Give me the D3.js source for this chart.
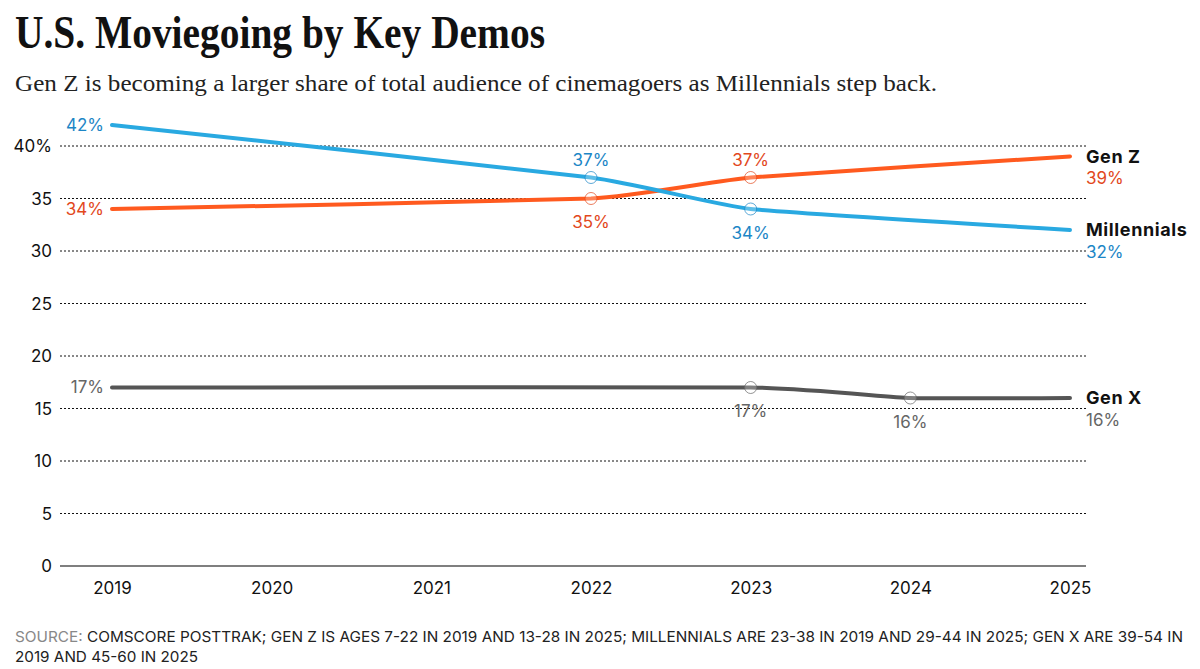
<!DOCTYPE html>
<html>
<head>
<meta charset="utf-8">
<script src="https://cdn.jsdelivr.net/npm/d3@7"></script>
<style>
  body { margin: 0; background: #fff; }
  text { font-family: "Inter", "Roboto", sans-serif; }
</style>
</head>
<body>
<script>
// U.S. moviegoing share by generation

let years = [2019, 2020, 2021, 2022, 2023, 2024, 2025];
let yTicks = [0, 5, 10, 15, 20, 25, 30, 35, 40];

let genZYears = [2019, 2022, 2023, 2025];
let genZValues = [34, 35, 37, 39];

let millYears = [2019, 2022, 2023, 2025];
let millValues = [42, 37, 34, 32];

let genXYears = [2019, 2023, 2024, 2025];
let genXValues = [17, 17, 16, 16];

// data labels: [year, value, position]
let genZLabels = [[2019, 34, "left"], [2022, 35, "below"], [2023, 37, "above"]];
let millLabels = [[2019, 42, "left"], [2022, 37, "above"], [2023, 34, "below"]];
let genXLabels = [[2019, 17, "left"], [2023, 17, "below"], [2024, 16, "below"]];

let genZMarkers = [2022, 2023];
let millMarkers = [2022, 2023];
let genXMarkers = [2023, 2024];

let series = [
  { name: "Gen Z", years: genZYears, values: genZValues, labels: genZLabels, markers: genZMarkers,
    line: "#ff5a1f", text: "#e2481c" },
  { name: "Millennials", years: millYears, values: millValues, labels: millLabels, markers: millMarkers,
    line: "#29a9e1", text: "#1c86c6" },
  { name: "Gen X", years: genXYears, values: genXValues, labels: genXLabels, markers: genXMarkers,
    line: "#555555", text: "#666666" }
];

let svgWidth = 1200;
let svgHeight = 669;

let svg = d3.select("body")
            .append("svg")
            .attr("width", svgWidth)
            .attr("height", svgHeight);

// Title and subtitle
svg.append("text")
   .attr("x", 15)
   .attr("y", 48)
   .attr("font-weight", "bold")
   .attr("font-size", 47)
   .attr("textLength", 530)
   .attr("lengthAdjust", "spacingAndGlyphs")
   .attr("fill", "#111")
   .style("font-family", "'Liberation Serif', serif")
   .text("U.S. Moviegoing by Key Demos");

svg.append("text")
   .attr("x", 15)
   .attr("y", 91)
   .attr("font-size", 24)
   .attr("textLength", 922)
   .attr("lengthAdjust", "spacingAndGlyphs")
   .attr("fill", "#222")
   .style("font-family", "'Liberation Serif', serif")
   .text("Gen Z is becoming a larger share of total audience of cinemagoers as Millennials step back.");

// Scales
let x = d3.scaleLinear().domain([2019, 2025]).range([112, 1070]);
let y = d3.scaleLinear().domain([0, 40]).range([566, 146]);

// Gridlines
let grid = svg.append("g");
grid.selectAll("line")
    .data(yTicks)
    .enter()
    .append("line")
    .attr("x1", 60)
    .attr("x2", 1086)
    .attr("y1", d => y(d))
    .attr("y2", d => y(d))
    .attr("stroke", d => d === 0 ? "#555" : "#111")
    .attr("stroke-width", d => d === 0 ? 1.5 : 1)
    .attr("stroke-dasharray", d => d === 0 ? null : "2,2");

// Y axis labels
let yAxis = d3.axisLeft(y)
              .tickValues(yTicks)
              .tickSize(0)
              .tickPadding(0)
              .tickFormat(d => d === 40 ? "40%" : d);

svg.append("g")
   .attr("transform", "translate(52, 0)")
   .call(yAxis)
   .call(g => g.select(".domain").remove())
   .call(g => g.selectAll("text")
               .attr("font-size", 17)
               .attr("fill", "#111")
               .attr("dy", "0.35em")
               .style("font-family", "Inter, sans-serif"));

// X axis labels
let xAxis = d3.axisBottom(x)
              .tickValues(years)
              .tickSize(0)
              .tickPadding(0)
              .tickFormat(d3.format("d"));

svg.append("g")
   .attr("transform", "translate(0, 582)")
   .call(xAxis)
   .call(g => g.select(".domain").remove())
   .call(g => g.selectAll("text")
               .attr("font-size", 17)
               .attr("fill", "#111")
               .attr("dy", "0.71em")
               .style("font-family", "Inter, sans-serif"));

// Lines
let line = d3.line()
             .curve(d3.curveCardinal.tension(0.6))
             .x(d => x(d[0]))
             .y(d => y(d[1]));

series.forEach(s => {
  let pts = s.years.map((yr, i) => [yr, s.values[i]]);

  svg.append("path")
     .datum(pts)
     .attr("d", line)
     .attr("fill", "none")
     .attr("stroke", s.line)
     .attr("stroke-width", 4)
     .attr("stroke-linecap", "round");

  // hollow markers
  svg.selectAll(null)
     .data(s.markers)
     .enter()
     .append("circle")
     .attr("cx", d => x(d))
     .attr("cy", d => y(s.values[s.years.indexOf(d)]))
     .attr("r", 6)
     .attr("fill", "rgba(255,255,255,0.25)")
     .attr("stroke", s.text)
     .attr("stroke-opacity", 0.7)
     .attr("stroke-width", 1);

  // data labels
  svg.selectAll(null)
     .data(s.labels)
     .enter()
     .append("text")
     .attr("x", d => d[2] === "left" ? x(d[0]) - 8 : x(d[0]))
     .attr("y", d => d[2] === "left" ? y(d[1]) : d[2] === "above" ? y(d[1]) - 17 : y(d[1]) + 24)
     .attr("dy", "0.35em")
     .attr("text-anchor", d => d[2] === "left" ? "end" : "middle")
     .attr("font-size", 17)
     .attr("fill", s.text)
     .text(d => d[1] + "%");

  // end labels
  let last = s.values[s.values.length - 1];
  svg.append("text")
     .attr("x", 1086)
     .attr("y", y(last))
     .attr("dy", "0.35em")
     .attr("font-size", 18)
     .attr("font-weight", "bold")
     .attr("letter-spacing", 0.6)
     .attr("fill", "#111")
     .text(s.name);

  svg.append("text")
     .attr("x", 1086)
     .attr("y", y(last) + 22)
     .attr("dy", "0.35em")
     .attr("font-size", 17)
     .attr("fill", s.text)
     .text(last + "%");
});

// Source note
let note = svg.append("text")
              .attr("x", 15)
              .attr("y", 642)
              .attr("font-size", 15)
              .attr("textLength", 1168)
              .attr("lengthAdjust", "spacingAndGlyphs")
              .attr("fill", "#222");
note.append("tspan").attr("fill", "#888").text("SOURCE: ");
note.append("tspan").text("COMSCORE POSTTRAK; GEN Z IS AGES 7-22 IN 2019 AND 13-28 IN 2025; MILLENNIALS ARE 23-38 IN 2019 AND 29-44 IN 2025; GEN X ARE 39-54 IN");

svg.append("text")
   .attr("x", 15)
   .attr("y", 662)
   .attr("font-size", 15)
   .attr("textLength", 183)
   .attr("lengthAdjust", "spacingAndGlyphs")
   .attr("fill", "#222")
   .text("2019 AND 45-60 IN 2025");
</script>
</body>
</html>
